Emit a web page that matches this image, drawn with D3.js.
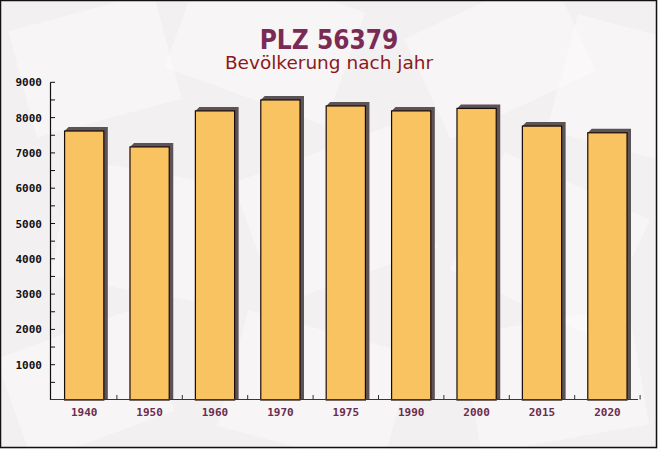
<!DOCTYPE html>
<html><head><meta charset="utf-8">
<script src="https://cdn.jsdelivr.net/npm/d3@7"></script>
<style>html,body{margin:0;padding:0;background:#fff}svg{display:block}</style>
</head><body>
<script>
const categories = ["1940","1950","1960","1970","1975","1990","2000","2015","2020"];
const values = [7620, 7170, 8190, 8500, 8330, 8190, 8260, 7760, 7570];
const yTicks = [1000,2000,3000,4000,5000,6000,7000,8000,9000];
const title = "PLZ 56379";
const subtitle = "Bevölkerung nach jahr";

const W = 658, H = 449;
const svg = d3.select("body").append("svg").attr("width", W).attr("height", H);

// background
svg.append("rect").attr("width", W).attr("height", H).attr("fill", "#f3f0f1");
const bg = svg.append("g");
const shapes = [
  [20,10,150,110,-15],[180,-20,170,120,20],[420,0,160,110,-25],[560,30,140,120,15],
  [60,170,150,120,10],[250,150,170,130,-20],[470,180,160,130,25],
  [10,330,150,110,-20],[230,330,170,120,15],[470,320,170,120,-10]
];
shapes.forEach(s => {
  bg.append("rect").attr("x", s[0]).attr("y", s[1]).attr("width", s[2]).attr("height", s[3])
    .attr("fill", "#fbfafa").attr("opacity", 0.55)
    .attr("transform", `rotate(${s[4]},${s[0]+s[2]/2},${s[1]+s[3]/2})`);
});

const x = d3.scaleBand().domain(categories).range([51.5, 640.1]).paddingInner(0.4).paddingOuter(0.2);
const y = d3.scaleLinear().domain([0, 9000]).range([400, 82.3]);

// title
svg.append("text").attr("x", 329).attr("y", 49).attr("text-anchor", "middle")
  .attr("font-family", "DejaVu Sans Condensed, DejaVu Sans").attr("font-stretch", "condensed")
  .attr("font-weight", "bold").attr("font-size", 26)
  .attr("fill", "#7a2b55").text(title);
svg.append("text").attr("x", 329).attr("y", 69).attr("text-anchor", "middle")
  .attr("font-family", "DejaVu Sans").attr("font-size", 18.5)
  .attr("fill", "#8b1a1a").text(subtitle);

// bars
const d = 4;
const bars = svg.append("g");
categories.forEach((c, i) => {
  const bx = x(c), bw = x.bandwidth(), top = y(values[i]), base = y(0);
  bars.append("path")
    .attr("d", `M${bx},${top} L${bx+d},${top-d} L${bx+bw+d},${top-d} L${bx+bw+d},${base} L${bx+bw},${base} Z`)
    .attr("fill", "#5b5355");
  bars.append("rect").attr("x", bx).attr("y", top).attr("width", bw).attr("height", base - top)
    .attr("fill", "#f8c360").attr("stroke", "#1a0a0a").attr("stroke-width", 1.2);
});

// y axis
const ya = svg.append("g");
ya.append("line").attr("x1", 50.5).attr("x2", 50.5).attr("y1", y(9000)).attr("y2", 400).attr("stroke", "#111").attr("stroke-width", 1.2);
d3.range(500, 9001, 500).forEach(v => {
  ya.append("line").attr("x1", 50.5).attr("x2", 55).attr("y1", y(v)).attr("y2", y(v)).attr("stroke", "#111");
});
yTicks.forEach(v => {
  ya.append("text").attr("x", 42).attr("y", y(v) + 4).attr("text-anchor", "end")
    .attr("font-family", "DejaVu Sans Mono").attr("font-weight", "bold").attr("font-size", 11)
    .attr("fill", "#111").text(v);
});

// x axis
const xa = svg.append("g");
xa.append("line").attr("x1", 50.5).attr("x2", 638).attr("y1", 399.5).attr("y2", 399.5).attr("stroke", "#5a2340").attr("stroke-width", 1.2);
categories.forEach((c, i) => {
  const bx = x(c) + x.bandwidth() + (x.step() - x.bandwidth()) / 2;
  xa.append("line").attr("x1", bx).attr("x2", bx).attr("y1", 399.5).attr("y2", 395).attr("stroke", "#333");
  xa.append("text").attr("x", x(c) + x.bandwidth()/2).attr("y", 416).attr("text-anchor", "middle")
    .attr("font-family", "DejaVu Sans Mono").attr("font-weight", "bold").attr("font-size", 11)
    .attr("fill", "#6b2d4f").text(c);
});

// border
svg.append("rect").attr("x", 0.5).attr("y", 0.5).attr("width", 656).attr("height", 447)
  .attr("fill", "none").attr("stroke", "#111").attr("stroke-width", 1.5);
</script>
</body></html>
